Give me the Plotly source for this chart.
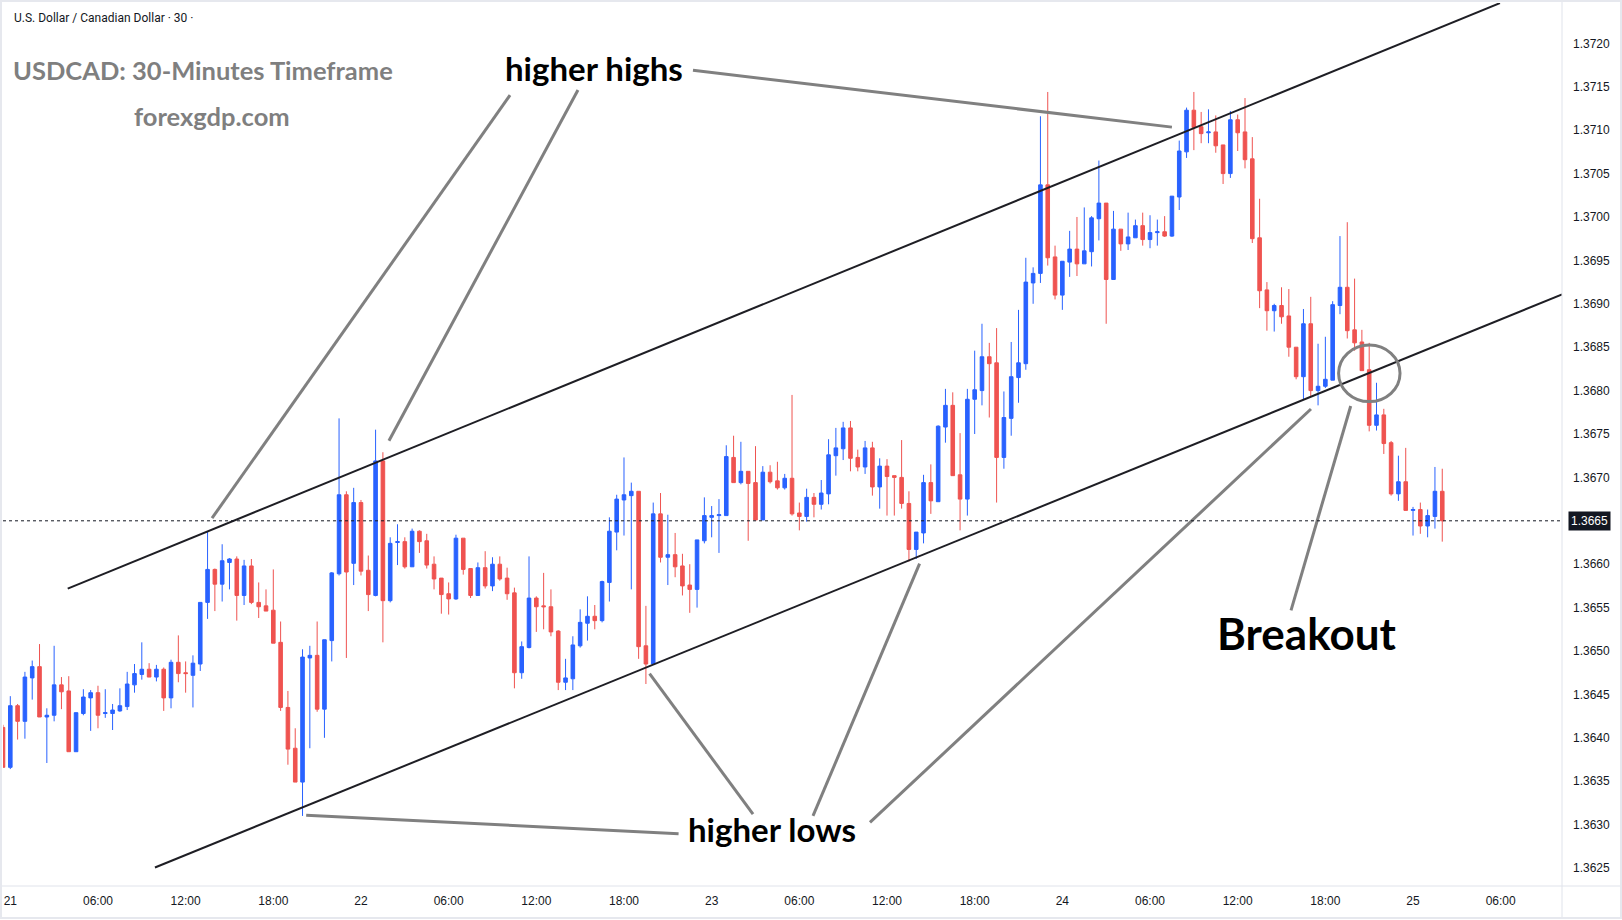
import plotly.graph_objects as go
import pandas as pd

# ---- data: USDCAD 30-minute candles, 20th 23:30 .. 25th 02:00 ----
opens = [1.36412,1.36366,1.36437,1.36419,1.36469,1.36482,1.36424,1.36426,1.36461,1.36454,
1.36384,1.36428,1.36446,1.36452,1.36428,1.36428,1.36431,1.36436,1.36461,1.36473,
1.36479,1.36470,1.36479,1.36446,1.36487,1.36475,1.36472,1.36485,1.36556,1.36594,
1.36577,1.36602,1.36606,1.36564,1.36598,1.36556,1.36552,1.36547,1.36510,1.36435,
1.36388,1.36349,1.36492,1.36495,1.36433,1.36512,1.36589,1.36680,1.36601,1.36671,
1.36593,1.36564,1.36719,1.36558,1.36625,1.36626,1.36597,1.36638,1.36627,1.36600,
1.36584,1.36566,1.36560,1.36630,1.36595,1.36564,1.36596,1.36575,1.36600,1.36584,
1.36567,1.36475,1.36504,1.36561,1.36552,1.36551,1.36523,1.36464,1.36468,1.36506,
1.36532,1.36540,1.36535,1.36579,1.36637,1.36674,1.36679,1.36684,1.36506,1.36485,
1.36658,1.36608,1.36611,1.36598,1.36576,1.36571,1.36627,1.36654,1.36656,1.36656,
1.36723,1.36694,1.36707,1.36694,1.36651,1.36706,1.36696,1.36688,1.36699,1.36659,
1.36655,1.36677,1.36669,1.36681,1.36725,1.36733,1.36757,1.36723,1.36712,1.36734,
1.36689,1.36713,1.36702,1.36700,1.36670,1.36617,1.36636,1.36694,1.36672,1.36758,
1.36783,1.36703,1.36675,1.36790,1.36800,1.36839,1.36832,1.36723,1.36768,1.36815,
1.36831,1.36924,1.36935,1.37037,1.36954,1.36910,1.36948,1.36963,1.36946,1.36960,
1.36998,1.37016,1.36928,1.36986,1.36969,1.36976,1.36990,1.36974,1.36982,1.36983,
1.36978,1.37023,1.37075,1.37123,1.37104,1.37097,1.37098,1.37083,1.37050,1.37112,
1.37098,1.37067,1.36976,1.36916,1.36892,1.36898,1.36886,1.36850,1.36816,1.36877,
1.36800,1.36805,1.36812,1.36898,1.36919,1.36870,1.36856,1.36824,1.36760,1.36772,
1.36740,1.36681,1.36695,1.36662,1.36663,1.36644,1.36655,1.36684]
highs = [1.36415,1.36448,1.36439,1.36476,1.36489,1.36508,1.36434,1.36506,1.36470,1.36471,
1.36429,1.36456,1.36455,1.36460,1.36456,1.36439,1.36457,1.36476,1.36485,1.36510,
1.36486,1.36484,1.36481,1.36490,1.36518,1.36488,1.36495,1.36556,1.36638,1.36595,
1.36623,1.36607,1.36609,1.36605,1.36606,1.36579,1.36571,1.36594,1.36534,1.36454,
1.36411,1.36502,1.36506,1.36534,1.36513,1.36591,1.36768,1.36684,1.36688,1.36674,
1.36610,1.36755,1.36729,1.36631,1.36646,1.36631,1.36641,1.36639,1.36635,1.36609,
1.36584,1.36579,1.36634,1.36630,1.36595,1.36602,1.36615,1.36608,1.36609,1.36596,
1.36573,1.36511,1.36609,1.36563,1.36590,1.36571,1.36524,1.36491,1.36517,1.36548,
1.36563,1.36553,1.36581,1.36654,1.36680,1.36723,1.36694,1.36684,1.36552,1.36671,
1.36682,1.36657,1.36636,1.36612,1.36600,1.36628,1.36677,1.36667,1.36675,1.36737,
1.36748,1.36741,1.36707,1.36736,1.36713,1.36714,1.36718,1.36704,1.36795,1.36671,
1.36687,1.36682,1.36697,1.36744,1.36757,1.36764,1.36765,1.36732,1.36742,1.36741,
1.36722,1.36721,1.36702,1.36743,1.36684,1.36637,1.36703,1.36715,1.36760,1.36802,
1.36798,1.36751,1.36802,1.36846,1.36877,1.36855,1.36872,1.36799,1.36856,1.36893,
1.36953,1.36942,1.37116,1.37144,1.36967,1.36949,1.36984,1.37000,1.37011,1.37001,
1.37065,1.37016,1.37007,1.36986,1.37005,1.36997,1.37005,1.37002,1.36997,1.37001,
1.37024,1.37088,1.37126,1.37144,1.37121,1.37124,1.37117,1.37083,1.37122,1.37118,
1.37137,1.37092,1.37021,1.36925,1.36900,1.36919,1.36917,1.36850,1.36894,1.36908,
1.36854,1.36862,1.36903,1.36978,1.36994,1.36929,1.36870,1.36855,1.36809,1.36779,
1.36742,1.36725,1.36734,1.36666,1.36671,1.36663,1.36712,1.36710]
lows = [1.36366,1.36364,1.36398,1.36399,1.36444,1.36424,1.36371,1.36419,1.36433,1.36384,
1.36384,1.36426,1.36408,1.36411,1.36423,1.36409,1.36430,1.36432,1.36452,1.36467,
1.36470,1.36465,1.36431,1.36434,1.36464,1.36452,1.36435,1.36477,1.36537,1.36546,
1.36557,1.36571,1.36535,1.36553,1.36554,1.36538,1.36546,1.36509,1.36431,1.36369,
1.36349,1.36310,1.36388,1.36430,1.36400,1.36488,1.36587,1.36492,1.36576,1.36587,
1.36546,1.36563,1.36510,1.36556,1.36599,1.36595,1.36597,1.36613,1.36595,1.36571,
1.36543,1.36542,1.36559,1.36588,1.36561,1.36564,1.36572,1.36569,1.36581,1.36559,
1.36457,1.36468,1.36503,1.36522,1.36525,1.36517,1.36455,1.36455,1.36455,1.36504,
1.36512,1.36525,1.36533,1.36557,1.36616,1.36633,1.36571,1.36491,1.36462,1.36484,
1.36602,1.36576,1.36585,1.36564,1.36544,1.36550,1.36624,1.36631,1.36613,1.36656,
1.36694,1.36692,1.36627,1.36651,1.36651,1.36693,1.36686,1.36686,1.36656,1.36639,
1.36649,1.36654,1.36663,1.36669,1.36702,1.36720,1.36707,1.36707,1.36704,1.36679,
1.36664,1.36656,1.36656,1.36664,1.36603,1.36606,1.36624,1.36658,1.36672,1.36740,
1.36702,1.36639,1.36656,1.36750,1.36783,1.36769,1.36671,1.36710,1.36748,1.36786,
1.36824,1.36900,1.36924,1.36944,1.36905,1.36893,1.36931,1.36932,1.36946,1.36943,
1.36973,1.36877,1.36928,1.36961,1.36962,1.36976,1.36967,1.36964,1.36967,1.36977,
1.36977,1.37008,1.37068,1.37077,1.37085,1.37085,1.37074,1.37038,1.37045,1.37076,
1.37056,1.36970,1.36895,1.36869,1.36868,1.36877,1.36839,1.36813,1.36790,1.36793,
1.36783,1.36803,1.36812,1.36888,1.36860,1.36846,1.36823,1.36753,1.36754,1.36727,
1.36679,1.36673,1.36662,1.36633,1.36635,1.36631,1.36641,1.36626]
closes = [1.36366,1.36437,1.36419,1.36470,1.36482,1.36424,1.36426,1.36461,1.36453,1.36384,
1.36429,1.36447,1.36452,1.36426,1.36429,1.36432,1.36437,1.36462,1.36474,1.36479,
1.36470,1.36479,1.36446,1.36487,1.36474,1.36474,1.36486,1.36556,1.36594,1.36577,
1.36604,1.36606,1.36564,1.36598,1.36556,1.36551,1.36546,1.36509,1.36435,1.36387,
1.36349,1.36493,1.36495,1.36433,1.36513,1.36590,1.36680,1.36591,1.36671,1.36592,
1.36565,1.36719,1.36558,1.36624,1.36626,1.36597,1.36638,1.36626,1.36599,1.36583,
1.36565,1.36560,1.36630,1.36594,1.36564,1.36596,1.36575,1.36600,1.36583,1.36566,
1.36475,1.36505,1.36561,1.36551,1.36551,1.36522,1.36464,1.36469,1.36507,1.36533,
1.36540,1.36535,1.36580,1.36638,1.36675,1.36680,1.36684,1.36505,1.36485,1.36658,
1.36608,1.36611,1.36597,1.36575,1.36571,1.36628,1.36656,1.36656,1.36657,1.36724,
1.36694,1.36707,1.36693,1.36651,1.36706,1.36695,1.36688,1.36699,1.36658,1.36655,
1.36677,1.36669,1.36682,1.36726,1.36734,1.36757,1.36722,1.36712,1.36734,1.36689,
1.36713,1.36701,1.36700,1.36670,1.36617,1.36637,1.36694,1.36673,1.36759,1.36783,
1.36702,1.36675,1.36790,1.36801,1.36839,1.36831,1.36723,1.36769,1.36816,1.36832,
1.36925,1.36935,1.37037,1.36953,1.36910,1.36949,1.36963,1.36946,1.36961,1.36999,
1.37016,1.36928,1.36986,1.36969,1.36977,1.36990,1.36974,1.36982,1.36983,1.36978,
1.37024,1.37076,1.37123,1.37103,1.37096,1.37098,1.37082,1.37050,1.37112,1.37097,
1.37066,1.36975,1.36915,1.36892,1.36898,1.36885,1.36850,1.36816,1.36877,1.36800,
1.36805,1.36813,1.36899,1.36919,1.36869,1.36855,1.36823,1.36760,1.36772,1.36739,
1.36681,1.36695,1.36662,1.36663,1.36644,1.36656,1.36684,1.36650]

tick_labels = ["21", "06:00", "12:00", "18:00", "22", "06:00", "12:00", "18:00",
               "23", "06:00", "12:00", "18:00", "24", "06:00", "12:00", "18:00",
               "25", "06:00"]
price_ticks = [1.3625, 1.3630, 1.3635, 1.3640, 1.3645, 1.3650, 1.3655, 1.3660, 1.3665, 1.3670,
               1.3675, 1.3680, 1.3685, 1.3690, 1.3695, 1.3700, 1.3705, 1.3710, 1.3715, 1.3720]
last_price = 1.3665

DAY0 = pd.Timestamp("2023-08-21 00:00")


def T(i):
    """time of fractional candle index i (0 = day 21, 00:00)"""
    return DAY0 + pd.Timedelta(minutes=30 * i)


times = [T(k - 1) for k in range(len(opens))]

# channel lines and pointer lines (candle index, price)
upper_channel = [(7.857, 1.365719), (203.9, 1.372464)]
lower_channel = [(19.80, 1.362506), (212.4, 1.369108)]
pointers = [
    [(93.44, 1.371690), (159.0, 1.371035)],
    [(68.40, 1.371403), (27.61, 1.366530)],
    [(77.70, 1.371463), (51.83, 1.367423)],
    [(91.47, 1.362895), (40.50, 1.363109)],
    [(101.66, 1.363120), (87.50, 1.364740)],
    [(109.87, 1.363100), (124.46, 1.366006)],
    [(117.67, 1.363025), (178.03, 1.367788)],
    [(175.30, 1.365469), (183.47, 1.367823)],
]
breakout_circle = [(181.81, 1.367873), (190.22, 1.368525)]

UP = "#2962ff"
DOWN = "#ef5350"

fig = go.Figure(go.Candlestick(
    x=times, open=opens, high=highs, low=lows, close=closes,
    increasing=dict(line=dict(color=UP, width=1), fillcolor=UP),
    decreasing=dict(line=dict(color=DOWN, width=1), fillcolor=DOWN),
    whiskerwidth=0, showlegend=False, hoverinfo="skip",
))

W, H = 1622, 920
L, R, TOP, B = 3, 60, 3, 34
PW, PH = W - L - R, H - TOP - B


def px(x):
    return (x - L) / PW


def py(y):
    return (H - B - y) / PH


shapes = []
for seg in (upper_channel, lower_channel):
    (i0, p0), (i1, p1) = seg
    shapes.append(dict(type="line", xref="x", yref="y", x0=T(i0), y0=p0, x1=T(i1), y1=p1,
                       line=dict(color="#1e1e24", width=2)))
for seg in pointers:
    (i0, p0), (i1, p1) = seg
    shapes.append(dict(type="line", xref="x", yref="y", x0=T(i0), y0=p0, x1=T(i1), y1=p1,
                       line=dict(color="#808080", width=3)))
(ci0, cp0), (ci1, cp1) = breakout_circle
shapes.append(dict(type="circle", xref="x", yref="y", x0=T(ci0), y0=cp0, x1=T(ci1), y1=cp1,
                   line=dict(color="#808080", width=3)))
# last price dotted line
shapes.append(dict(type="line", xref="paper", yref="y", x0=0, x1=1, y0=last_price, y1=last_price,
                   line=dict(color="#131722", width=1, dash="dot")))
# separators and frame
shapes.append(dict(type="line", xref="paper", yref="paper", x0=px(1562), x1=px(1562),
                   y0=py(918), y1=py(0), line=dict(color="#e0e3eb", width=1)))
shapes.append(dict(type="line", xref="paper", yref="paper", x0=px(0), x1=px(1622),
                   y0=py(886), y1=py(886), line=dict(color="#e0e3eb", width=1)))
shapes.append(dict(type="rect", xref="paper", yref="paper", x0=px(1), x1=px(1621),
                   y0=py(918), y1=py(1), line=dict(color="#e6e8ee", width=2)))

annotations = [
    dict(text="U.S. Dollar / Canadian Dollar · 30 ·", x=px(11.5), y=py(17.5), xanchor="left",
         yanchor="middle", font=dict(family="Roboto", size=12, color="#131722")),
    dict(text="<b>USDCAD: 30-Minutes Timeframe</b>", x=px(203.5), y=py(70.5), xanchor="center",
         yanchor="middle", font=dict(family="Lato", size=25.5, color="#7f7f7f")),
    dict(text="<b>forexgdp.com</b>", x=px(211.7), y=py(116), xanchor="center",
         yanchor="middle", font=dict(family="Lato", size=25.5, color="#7f7f7f")),
    dict(text="<b>higher highs</b>", x=px(593.7), y=py(67.7), xanchor="center",
         yanchor="middle", font=dict(family="Lato", size=33, color="#000000")),
    dict(text="<b>higher lows</b>", x=px(772.2), y=py(829), xanchor="center",
         yanchor="middle", font=dict(family="Lato", size=33, color="#000000")),
    dict(text="<b>Breakout</b>", x=px(1306.5), y=py(633.4), xanchor="center",
         yanchor="middle", font=dict(family="Lato", size=44, color="#000000")),
    dict(text="1.3665", xref="paper", yref="y", x=px(1589.5), y=last_price, xanchor="center",
         yanchor="middle", bgcolor="#131722", borderpad=2,
         font=dict(family="Liberation Sans", size=12, color="#ffffff")),
]
for a in annotations:
    a.setdefault("xref", "paper")
    a.setdefault("yref", "paper")
    a["showarrow"] = False

fig.update_layout(
    width=W, height=H,
    margin=dict(l=L, r=R, t=TOP, b=B),
    paper_bgcolor="#ffffff", plot_bgcolor="#ffffff",
    shapes=shapes, annotations=annotations,
    xaxis=dict(
        type="date", range=[T(-0.999), T(212.39)],
        tickvals=[T(12 * k) for k in range(len(tick_labels))], ticktext=tick_labels,
        showgrid=False, zeroline=False, showline=False, ticks="",
        ticklabelstandoff=6, rangeslider=dict(visible=False),
        tickfont=dict(family="Liberation Sans", size=12, color="#131722"),
    ),
    yaxis=dict(
        side="right", range=[1.362293, 1.372465],
        tickvals=price_ticks, ticktext=[f"{v:.4f}" for v in price_ticks],
        showgrid=False, zeroline=False, showline=False, ticks="",
        ticklabelstandoff=10,
        tickfont=dict(family="Liberation Sans", size=12, color="#131722"),
    ),
    hovermode=False,
)

fig.write_html("out.html", config={"displayModeBar": False})
